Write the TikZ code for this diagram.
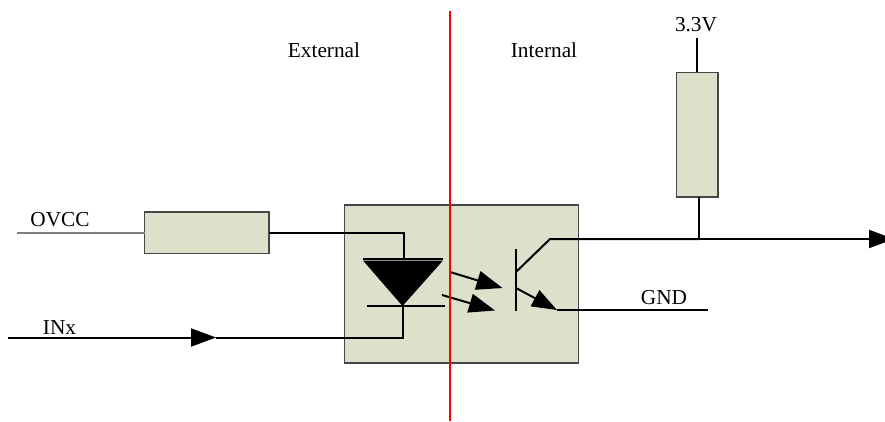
\documentclass[tikz,border=0pt]{standalone}
\usepackage{fontspec}
\setmainfont{Liberation Serif}
\usetikzlibrary{arrows.meta}
\definecolor{boxfill}{RGB}{221,224,203}
\definecolor{boxline}{RGB}{70,70,70}
\tikzset{
  x=1pt,y=-1pt,
  boxnode/.style={draw=boxline,fill=boxfill,line width=1.4pt,inner sep=0pt,outer sep=0pt,anchor=north west},
  wire/.style={black,line width=2pt,line join=miter},
  thinwire/.style={draw=boxline!70,line width=1.5pt},
  label/.style={font=\fontsize{21.3}{23}\selectfont,inner sep=0pt,text=black},
  headed/.style={wire,-{Triangle[length=25pt,width=18pt]}},
  smallhead/.style={wire,-{Triangle[length=26pt,width=19pt]}},
}
\begin{document}
\begin{tikzpicture}
\useasboundingbox (0,0) rectangle (885,421);
% boxes
\node[boxnode,minimum width=233.5pt,minimum height=158pt] (opto) at (344.7,205) {};
\node[boxnode,minimum width=124.5pt,minimum height=41.5pt] (r1) at (144.5,212) {};
\node[boxnode,minimum width=41.5pt,minimum height=124.5pt] (r2) at (676.3,72.3) {};
% free ends and junctions
\coordinate (ovccend) at (17,233);
\coordinate (r1out) at (269,233);
\coordinate (anode) at (404,259);
\coordinate (cathode) at (402.5,306);
\coordinate (inxstart) at (8,337.5);
\coordinate (inxhead) at (216,337.5);
\coordinate (inxbend) at (402.5,337.5);
\coordinate (vtop) at (697,38);
\coordinate (r2top) at (697,72);
\coordinate (r2bot) at (699,197);
\coordinate (junction) at (699,239);
\coordinate (outend) at (894,239);
\coordinate (colbend) at (550,239);
\coordinate (colbase) at (516,272);
\coordinate (emitbase) at (516,288);
\coordinate (emitbend) at (557,310);
\coordinate (gndend) at (708,310);
% diode
\fill[black] (363,260.5) -- (443,260.5) -- (cathode) -- cycle;
\draw[wire] (363,258.7) -- (443,258.7);
\draw[wire] (367,306) -- (445,306);
% wires
\draw[thinwire] (ovccend) -- (r1out-|r1.west);
\draw[wire] (r1out) -| (anode);
\draw[wire] (cathode) -- (inxbend) -- (inxhead);
\draw[headed] (inxstart) -- (inxhead);
\draw[wire] (vtop) -- (r2top);
\draw[wire] (r2bot) -- (junction);
% transistor
\draw[wire] (516,249) -- (516,311);
\draw[wire] (colbase) -- (colbend) -- (junction);
\draw[headed] (junction) -- (outend);
\draw[headed] (emitbase) -- (emitbend);
\draw[wire] (emitbend) -- (gndend);
% light arrows
\draw[smallhead] (450,272) -- (502.5,288);
\draw[smallhead] (442,295) -- (495,310.5);
% divider
\draw[red,line width=2pt] (450,11) -- (450,421);
% labels
\node[label] (ovcc) at (60,220) {OVCC};
\node[label] (inx) at (59.5,328) {INx};
\node[label] (ext) at (324,50) {External};
\node[label] (int) at (544,50) {Internal};
\node[label] (gnd) at (664,298) {GND};
\node[label] (vcc) at (696,25) {3.3V};
\end{tikzpicture}
\end{document}
